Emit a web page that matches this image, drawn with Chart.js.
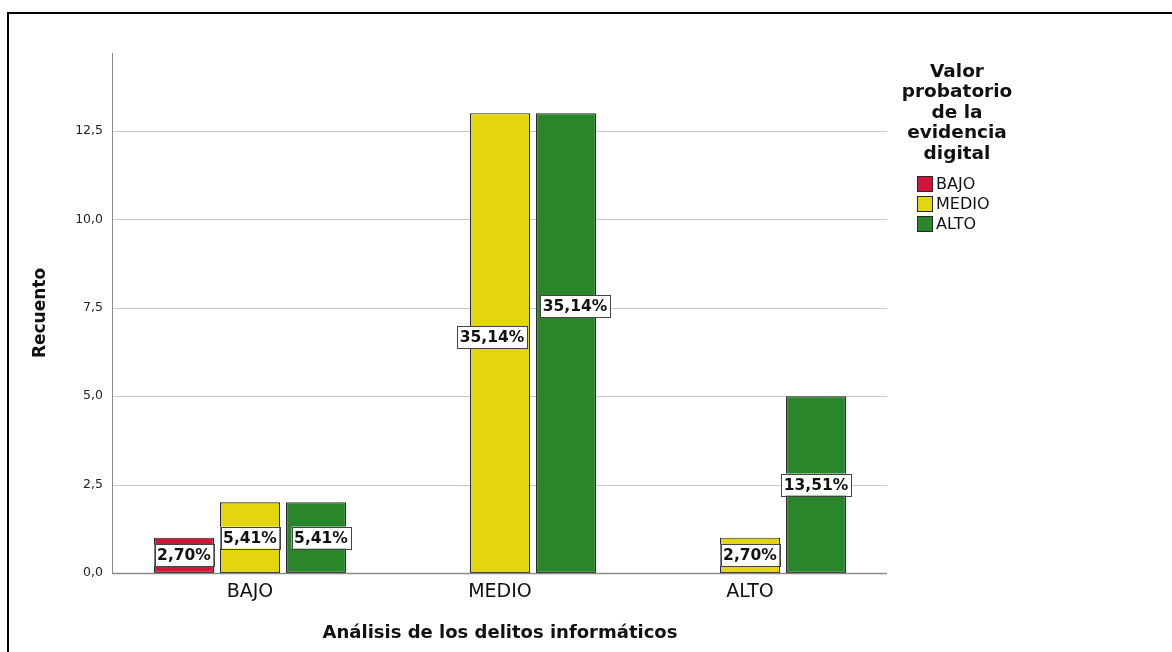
<!DOCTYPE html>
<html lang="es">
<head>
<meta charset="utf-8">
<script src="https://cdn.jsdelivr.net/npm/chart.js@4.4.0/dist/chart.umd.min.js"></script>
<style>
    html, body { margin: 0; padding: 0; background: #fff; }
    #wrap { width: 1172px; height: 652px; }
</style>
</head>
<body>
<div id="wrap"><canvas id="myChart" width="1172" height="652"></canvas></div>
<script>
// data (counts)
let categories = ['BAJO', 'MEDIO', 'ALTO'];
let seriesNames = ['BAJO', 'MEDIO', 'ALTO'];
let bajoValues = [1, 0, 0];
let medioValues = [2, 13, 1];
let altoValues = [2, 13, 5];
let yTickStep = 2.5;
let yMax = 14.7;
let legendTitle = ['Valor', 'probatorio', 'de la', 'evidencia', 'digital'];
let xTitle = 'Análisis de los delitos informáticos';
let yTitle = 'Recuento';

let seriesColors = ['#D3153B', '#E3D60F', '#2A862A'];
let barBorder = '#2a2a2a';

// small nudges so the % boxes sit where SPSS put them: "dataset-index": [dx, dy]
let labelNudge = { '2-0': [5, 0], '1-1': [-8, -6], '2-1': [9, -37] };

let total = 0;
[bajoValues, medioValues, altoValues].forEach(function (arr) {
    arr.forEach(function (v) { total += v; });
});

function fmtComma(v, d) {
    return v.toFixed(d).replace('.', ',');
}

let datasets = [bajoValues, medioValues, altoValues].map(function (vals, i) {
    return {
        label: seriesNames[i],
        data: vals,
        backgroundColor: seriesColors[i],
        borderColor: barBorder,
        borderWidth: function (c) { return c.raw > 0 ? 1.2 : 0; },
        borderSkipped: false,
        categoryPercentage: 0.792,
        barPercentage: 0.909
    };
});

const spssPlugin = {
    id: 'spssPlugin',
    beforeDatasetsDraw: function (chart) {
        let ctx = chart.ctx;
        let y = chart.scales.y;
        ctx.save();
        ctx.strokeStyle = '#c9c9c9';
        ctx.lineWidth = 1;
        y.ticks.forEach(function (t) {
            if (t.value <= 0) return;
            let py = Math.round(y.getPixelForValue(t.value)) + 0.5;
            ctx.beginPath();
            ctx.moveTo(112, py);
            ctx.lineTo(887, py);
            ctx.stroke();
        });
        // y axis line
        ctx.strokeStyle = '#8a8a8a';
        ctx.beginPath();
        ctx.moveTo(112.5, chart.chartArea.top);
        ctx.lineTo(112.5, y.getPixelForValue(0));
        ctx.stroke();
        ctx.restore();
    },
    afterDatasetsDraw: function (chart) {
        let ctx = chart.ctx;
        let y = chart.scales.y;
        ctx.save();
        // baseline
        let by = Math.round(y.getPixelForValue(0)) + 0.5;
        ctx.strokeStyle = '#8a8a8a';
        ctx.lineWidth = 1.5;
        ctx.beginPath();
        ctx.moveTo(112, by);
        ctx.lineTo(887, by);
        ctx.stroke();

        // percentage boxes
        ctx.font = 'bold 15.5px "DejaVu Sans"';
        ctx.textAlign = 'center';
        ctx.textBaseline = 'middle';
        chart.data.datasets.forEach(function (ds, di) {
            chart.getDatasetMeta(di).data.forEach(function (bar, i) {
                let v = ds.data[i];
                if (!(v > 0)) return;
                let txt = fmtComma(v / total * 100, 2) + '%';
                let nudge = labelNudge[di + '-' + i] || [0, 0];
                let cx = bar.x + nudge[0];
                let cy = (bar.y + bar.base) / 2 + nudge[1];
                let w = ctx.measureText(txt).width + 5;
                let h = 22;
                ctx.fillStyle = '#fff';
                ctx.fillRect(cx - w / 2, cy - h / 2, w, h);
                ctx.strokeStyle = '#444';
                ctx.lineWidth = 1;
                ctx.strokeRect(Math.round(cx - w / 2) + 0.5, Math.round(cy - h / 2) + 0.5, Math.round(w), h);
                ctx.fillStyle = '#111';
                ctx.fillText(txt, cx, cy + 1);
            });
        });

        // legend
        ctx.fillStyle = '#111';
        ctx.font = 'bold 18.5px "DejaVu Sans"';
        legendTitle.forEach(function (line, k) {
            ctx.fillText(line, 957, 72 + k * 20.5);
        });
        ctx.font = '16px "DejaVu Sans"';
        ctx.textAlign = 'left';
        chart.data.datasets.forEach(function (ds, di) {
            let ly = 184 + di * 20;
            ctx.fillStyle = ds.backgroundColor;
            ctx.fillRect(917, ly - 8, 15, 15);
            ctx.strokeStyle = barBorder;
            ctx.strokeRect(917.5, ly - 7.5, 15, 15);
            ctx.fillStyle = '#111';
            ctx.fillText(ds.label, 936, ly + 1);
        });
        ctx.restore();
    },
    afterDraw: function (chart) {
        let ctx = chart.ctx;
        ctx.save();
        ctx.strokeStyle = '#000';
        ctx.lineWidth = 2;
        ctx.beginPath();
        ctx.moveTo(8, 652);
        ctx.lineTo(8, 13);
        ctx.lineTo(1172, 13);
        ctx.stroke();
        ctx.restore();
    }
};

new Chart(document.getElementById('myChart'), {
    type: 'bar',
    data: {
        labels: categories,
        datasets: datasets
    },
    options: {
        responsive: false,
        animation: false,
        devicePixelRatio: 1,
        layout: {
            padding: { top: 53, right: 297, left: 0, bottom: 0 }
        },
        plugins: {
            legend: { display: false },
            tooltip: { enabled: false }
        },
        scales: {
            x: {
                offset: true,
                grid: { display: false, drawTicks: false },
                border: { display: false },
                ticks: {
                    padding: 8,
                    color: '#111',
                    font: { family: 'DejaVu Sans', size: 19 }
                },
                title: {
                    display: true,
                    text: xTitle,
                    color: '#111',
                    font: { family: 'DejaVu Sans', size: 18, weight: 'bold' },
                    padding: { top: 0, bottom: 8 }
                },
                afterFit: function (scale) { scale.height = 79; }
            },
            y: {
                min: 0,
                max: yMax,
                grid: { display: false, drawTicks: false },
                border: { display: false },
                ticks: {
                    stepSize: yTickStep,
                    includeBounds: false,
                    padding: 22,
                    color: '#222',
                    font: { family: 'DejaVu Sans', size: 12.5 },
                    callback: function (value) {
                        if (Math.abs(value / yTickStep - Math.round(value / yTickStep)) > 1e-6) return '';
                        return fmtComma(value, 1);
                    }
                },
                title: {
                    display: true,
                    text: yTitle,
                    color: '#111',
                    font: { family: 'DejaVu Sans', size: 17, weight: 'bold' },
                    padding: { top: 30, bottom: 0 }
                },
                afterFit: function (scale) { scale.width = 125; }
            }
        }
    },
    plugins: [spssPlugin]
});
</script>
</body>
</html>
